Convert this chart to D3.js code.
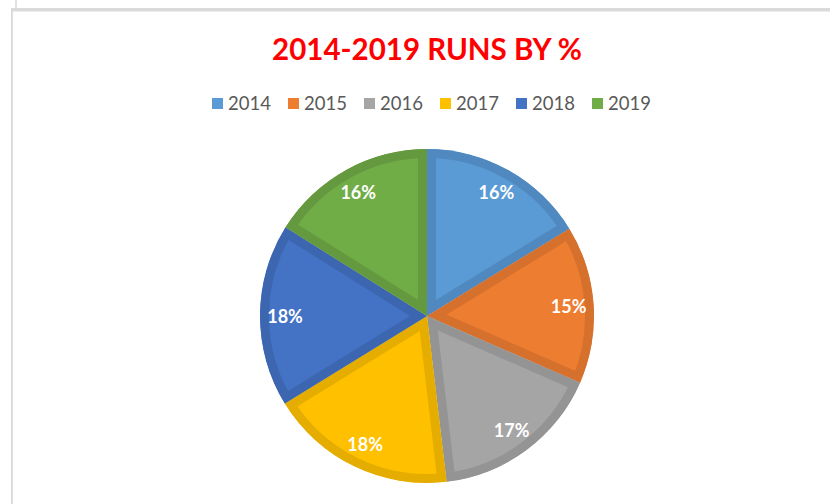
<!DOCTYPE html>
<html>
<head>
<meta charset="utf-8">
<script src="https://cdn.jsdelivr.net/npm/d3@7"></script>
<style>
  body { margin: 0; background: #fff; }
  svg { display: block; }
</style>
</head>
<body>
<div id="chart"></div>
<script>
var years = ['2014', '2015', '2016', '2017', '2018', '2019']
var runs = [16.25, 15.3, 16.6, 18.1, 17.7, 16.1]
var colors = ['#5B9BD5', '#ED7D31', '#A5A5A5', '#FFC000', '#4472C4', '#70AD47']
var borders = ['#4F89C0', '#D6702D', '#949494', '#E5AD00', '#3D66B0', '#65993F']

var width = 830, height = 504
var cx = 427, cy = 316, radius = 167

var svg = d3.select('#chart')
  .append('svg')
  .attr('width', width)
  .attr('height', height)

/** frame lines */
svg.append('line')
  .attr('x1', 16).attr('y1', 0).attr('x2', 16).attr('y2', 9)
  .attr('stroke', '#d9d9d9').attr('stroke-width', 1.5)
svg.append('rect')
  .attr('x', 11).attr('y', 8).attr('width', width - 11).attr('height', 3.5)
  .attr('fill', '#dadada')
svg.append('rect')
  .attr('x', 11).attr('y', 10).attr('width', 1.8).attr('height', height - 10)
  .attr('fill', '#d9d9d9')

/** title */
svg.append('text')
  .attr('x', cx)
  .attr('y', 60)
  .attr('text-anchor', 'middle')
  .attr('font-family', 'Lato, sans-serif')
  .attr('font-weight', 'bold')
  .attr('font-size', 29.5)
  .attr('fill', '#FF0000')
  .text('2014-2019 RUNS BY %')

/** legend */
var legendX = d3.scalePoint().domain(years).range([212, 592])
var legend = svg.append('g').selectAll('g')
  .data(years)
  .enter()
  .append('g')
  .attr('transform', d => 'translate(' + legendX(d) + ',98)')

legend.append('rect')
  .attr('width', 11).attr('height', 11)
  .attr('fill', (d, i) => colors[i])

legend.append('text')
  .attr('x', 16)
  .attr('y', 11.5)
  .attr('font-family', 'Lato, sans-serif')
  .attr('font-size', 18.5)
  .attr('fill', '#595959')
  .text(d => d)

/** pie */
var total = d3.sum(runs)
var pie = d3.pie().sort(null).value(d => d)
var arc = d3.arc().innerRadius(0).outerRadius(radius)
var labelArc = d3.arc().innerRadius(142).outerRadius(142)
var arcs = pie(runs)

var g = svg.append('g')
  .attr('transform', 'translate(' + cx + ',' + cy + ')')

var defs = svg.append('defs')
defs.selectAll('clipPath')
  .data(arcs)
  .enter()
  .append('clipPath')
  .attr('id', (d, i) => 'clip' + i)
  .append('path')
  .attr('d', arc)

g.selectAll('path.slice')
  .data(arcs)
  .enter()
  .append('path')
  .attr('class', 'slice')
  .attr('d', arc)
  .attr('fill', (d, i) => colors[i])
  .attr('stroke', (d, i) => borders[i])
  .attr('stroke-width', 18)
  .attr('stroke-linejoin', 'miter')
  .attr('clip-path', (d, i) => 'url(#clip' + i + ')')

g.selectAll('text.label')
  .data(arcs)
  .enter()
  .append('text')
  .attr('class', 'label')
  .attr('transform', d => 'translate(' + labelArc.centroid(d) + ')')
  .attr('text-anchor', 'middle')
  .attr('dy', '0.4em')
  .attr('font-family', 'Lato, sans-serif')
  .attr('font-weight', 'bold')
  .attr('font-size', 18)
  .attr('fill', '#fff')
  .text(d => Math.round(d.data / total * 100) + '%')
</script>
</body>
</html>
